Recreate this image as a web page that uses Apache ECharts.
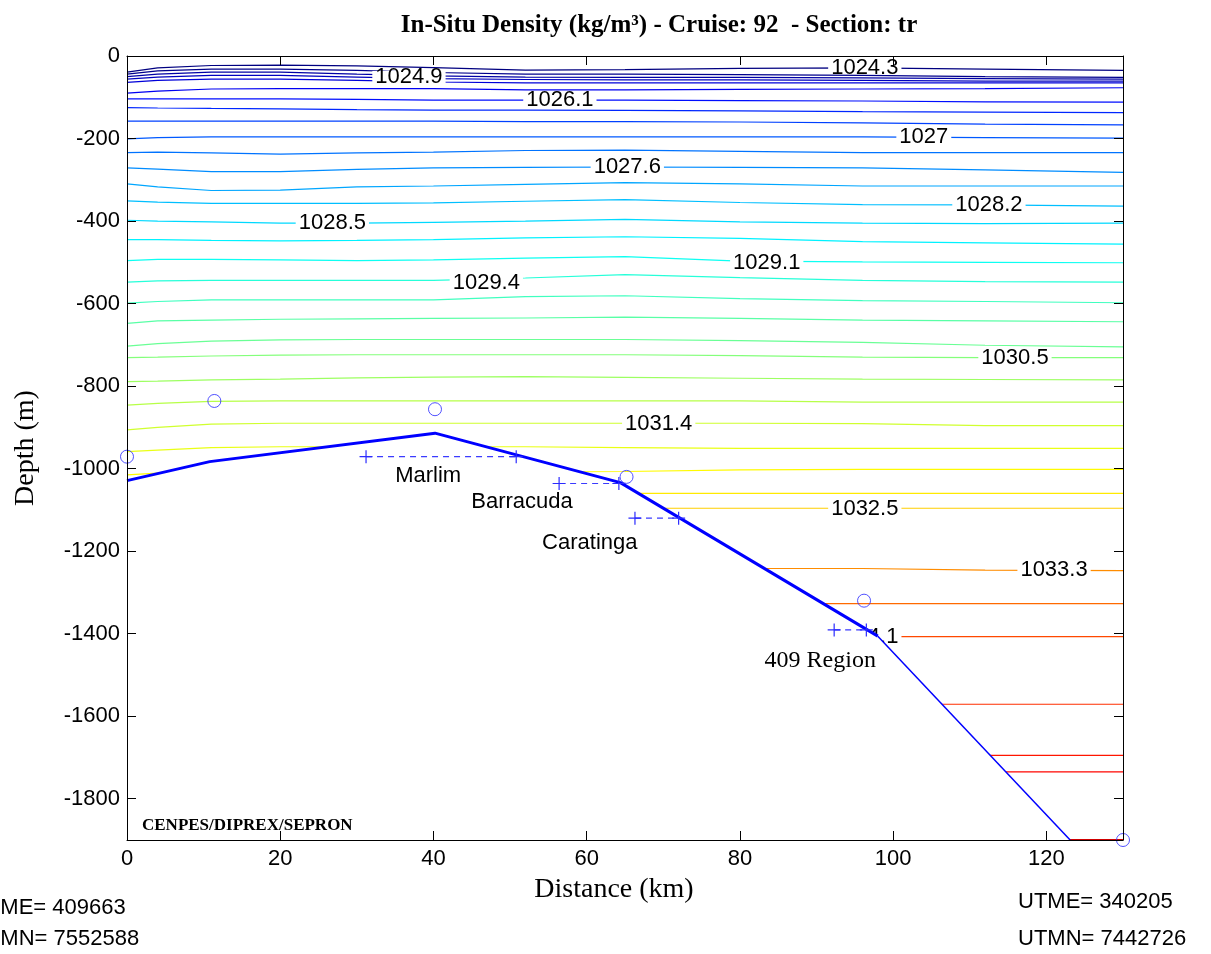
<!DOCTYPE html>
<html>
<head>
<meta charset="utf-8">
<script src="https://cdn.jsdelivr.net/npm/echarts@6/dist/echarts.min.js"></script>
<style>
  html, body { margin: 0; padding: 0; background: #ffffff; }
  #chart { width: 1211px; height: 954px; }
</style>
</head>
<body>
<div id="chart"></div>
<script>
// Distance nodes (km) at which every isopycnal depth is sampled
const distanceKm = [0, 4, 11, 20, 30, 40, 52, 65, 80, 96, 112, 130];

// In-situ density levels (kg/m3) of the contour lines, shallow to deep
const contourLevels = [
  1024.3, 1024.6, 1024.9, 1025.2, 1025.5, 1025.8, 1026.1, 1026.4, 1026.7, 1027.0,
  1027.3, 1027.6, 1027.9, 1028.2, 1028.5, 1028.8, 1029.1, 1029.4, 1029.7, 1030.0,
  1030.2, 1030.5, 1030.8, 1031.1, 1031.4, 1031.7, 1032.0, 1032.2, 1032.5, 1033.3,
  1033.7, 1034.1, 1034.4, 1034.7, 1034.9, 1035.5
];

// Depth (m) of each contour line at the distance nodes above
const contourDepths = [
  [-39, -29, -23, -22, -24, -28, -34, -33, -30, -29, -32, -35],
  [-44, -36, -32, -32, -35, -40, -44, -44, -45, -47, -50, -52],
  [-50, -44, -39, -39, -44, -48, -51, -52, -52, -53, -55, -56],
  [-56, -51, -47, -47, -51, -55, -57, -58, -58, -59, -61, -61],
  [-64, -59, -56, -56, -59, -63, -65, -65, -65, -65, -65, -65],
  [-90, -85, -80, -79, -79, -79, -82, -82, -81, -80, -79, -77],
  [-104, -104, -104, -104, -105, -107, -107, -107, -108, -109, -111, -112],
  [-125, -126, -127, -128, -130, -131, -131, -132, -133, -135, -136, -137],
  [-158, -158, -158, -158, -158, -158, -159, -159, -160, -162, -165, -167],
  [-201, -198, -196, -196, -196, -196, -196, -196, -196, -196, -198, -199],
  [-234, -233, -235, -238, -235, -233, -229, -228, -231, -234, -234, -234],
  [-271, -274, -280, -280, -275, -271, -270, -269, -270, -271, -276, -282],
  [-310, -317, -326, -325, -317, -315, -311, -307, -310, -315, -315, -315],
  [-351, -354, -357, -357, -357, -356, -352, -348, -355, -360, -361, -364],
  [-398, -400, -402, -405, -405, -403, -400, -396, -402, -405, -406, -405],
  [-445, -445, -447, -448, -447, -445, -441, -438, -442, -450, -453, -456],
  [-496, -493, -493, -494, -496, -494, -490, -486, -497, -499, -500, -501],
  [-548, -545, -544, -544, -544, -544, -538, -530, -537, -544, -547, -548],
  [-599, -595, -591, -591, -591, -591, -583, -581, -588, -593, -595, -598],
  [-648, -642, -640, -638, -637, -636, -635, -633, -636, -640, -642, -644],
  [-703, -697, -691, -688, -687, -687, -687, -687, -690, -694, -701, -705],
  [-731, -730, -727, -725, -724, -724, -724, -724, -726, -730, -731, -731],
  [-789, -788, -785, -783, -780, -778, -777, -779, -781, -783, -784, -785],
  [-846, -842, -837, -836, -836, -836, -836, -836, -836, -839, -839, -839],
  [-906, -900, -892, -890, -890, -890, -890, -890, -890, -891, -896, -896],
  [-959, -955, -949, -947, -947, -947, -947, -949, -951, -951, -951, -951],
  [-1015, -1011, -1008, -1008, -1008, -1008, -1008, -1007, -1003, -1002, -1002, -1002],
  [-1060, -1060, -1060, -1060, -1060, -1060, -1060, -1060, -1060, -1060, -1060, -1060],
  [-1096, -1096, -1096, -1096, -1096, -1096, -1096, -1096, -1096, -1096, -1096, -1096],
  [-1242, -1242, -1242, -1242, -1242, -1242, -1242, -1242, -1242, -1242, -1246, -1247],
  [-1327, -1327, -1327, -1327, -1327, -1327, -1327, -1327, -1327, -1327, -1327, -1327],
  [-1407, -1407, -1407, -1407, -1407, -1407, -1407, -1407, -1407, -1407, -1407, -1407],
  [-1571, -1571, -1571, -1571, -1571, -1571, -1571, -1571, -1571, -1571, -1571, -1571],
  [-1695, -1695, -1695, -1695, -1695, -1695, -1695, -1695, -1695, -1695, -1695, -1695],
  [-1735, -1735, -1735, -1735, -1735, -1735, -1735, -1735, -1735, -1735, -1735, -1735],
  [-1900, -1900, -1900, -1900, -1900, -1900, -1900, -1900, -1900, -1900, -1900, -1900]
];

// Inline contour labels: level, distance (km), depth (m)
const labelLevels = [1024.3, 1024.9, 1026.1, 1027.0, 1027.6, 1028.2, 1028.5, 1029.1, 1029.4, 1030.5, 1031.4, 1032.5, 1033.3, 1034.1];
const labelKm     = [96.3, 36.8, 56.5, 104.0, 65.3, 112.5, 26.8, 83.5, 46.9, 115.9, 69.4, 96.3, 121.0, 96.3];
const labelDepth  = [-29, -51, -107, -196, -270, -361, -405, -502, -550, -732, -892, -1097, -1246, -1408];

// Sea floor profile along the section
const bottomKm    = [0, 10.8, 40.2, 64.4, 98.0, 123.1];
const bottomDepth = [-1029, -983, -914, -1034, -1406, -1900];

// CTD stations (deepest sample)
const stationKm    = [0, 11.4, 40.2, 65.2, 96.2, 130];
const stationDepth = [-971, -836, -856, -1020, -1320, -1900];

// Oil fields crossed by the section
const fieldNames   = ['Marlim', 'Barracuda', 'Caratinga', '409 Region'];
const fieldStartKm = [31.2, 56.4, 66.3, 92.3];
const fieldEndKm   = [50.8, 64.2, 72.0, 96.5];
const fieldDepth   = [-971, -1036, -1120, -1391];

// Axis ticks
const xTicks = [0, 20, 40, 60, 80, 100, 120];
const yTicks = [0, -200, -400, -600, -800, -1000, -1200, -1400, -1600, -1800];

// Jet colormap
const colorMin = 1024.45, colorMax = 1036.45;
function jet(level) {
  const t = Math.max(0, Math.min(1, (level - colorMin) / (colorMax - colorMin)));
  const c = v => Math.max(0, Math.min(1, v));
  const r = c(Math.min(4 * t - 1.5, -4 * t + 4.5));
  const g = c(Math.min(4 * t - 0.5, -4 * t + 3.5));
  const b = c(Math.min(4 * t + 0.5, -4 * t + 2.5));
  return 'rgb(' + [r, g, b].map(v => Math.round(v * 255)).join(',') + ')';
}
const fmtLevel = v => String(Math.round(v * 10) / 10);

const crossSymbol = 'path://M-6,0L6,0M0,-6L0,6';
const sansFont = 'Liberation Sans';
const serifFont = 'Liberation Serif';

const series = [];

// Isopycnals
contourLevels.forEach((lev, i) => {
  series.push({
    type: 'line',
    z: 2,
    silent: true,
    symbol: 'none',
    data: distanceKm.map((km, j) => [km, contourDepths[i][j]]),
    lineStyle: { color: jet(lev), width: lev >= 1035 ? 2 : 1.2 }
  });
});

// Contour labels
series.push({
  type: 'scatter',
  z: 3,
  silent: true,
  symbolSize: 1,
  itemStyle: { color: 'transparent', opacity: 1 },
  data: labelLevels.map((lev, i) => ({ value: [labelKm[i], labelDepth[i]], level: lev })),
  label: {
    show: true,
    position: 'inside',
    formatter: p => fmtLevel(p.data.level),
    color: '#000000',
    textBorderWidth: 0,
    fontFamily: sansFont,
    fontSize: 22,
    lineHeight: 12,
    backgroundColor: '#ffffff',
    padding: [0, 3]
  }
});

// White sea floor below the bottom profile
const maskData = bottomKm.map((km, i) => [km, bottomDepth[i]]);
maskData.push([130, -1900]);
series.push({
  type: 'line',
  z: 4,
  silent: true,
  symbol: 'none',
  data: maskData,
  lineStyle: { width: 0 },
  areaStyle: { color: '#ffffff', opacity: 1, origin: 'start' }
});

// Bottom profile: thick upper slope, thin lower slope
series.push({
  type: 'line',
  z: 5,
  silent: true,
  symbol: 'none',
  data: bottomKm.slice(0, 5).map((km, i) => [km, bottomDepth[i]]),
  lineStyle: { color: '#0000ff', width: 3 }
});
series.push({
  type: 'line',
  z: 5,
  silent: true,
  symbol: 'none',
  data: bottomKm.slice(4).map((km, i) => [km, bottomDepth[i + 4]]),
  lineStyle: { color: '#0000ff', width: 1.5 }
});

// Stations
series.push({
  type: 'scatter',
  z: 6,
  silent: true,
  clip: false,
  symbol: 'circle',
  symbolSize: 13,
  itemStyle: { color: 'none', borderColor: '#3333ff', borderWidth: 1, opacity: 0.85 },
  data: stationKm.map((km, i) => [km, stationDepth[i]])
});

// Oil field extents
fieldNames.forEach((name, i) => {
  series.push({
    type: 'line',
    z: 6,
    silent: true,
    symbol: crossSymbol,
    symbolSize: 13,
    showSymbol: true,
    itemStyle: { color: 'none', borderColor: '#2b2bff', borderWidth: 1.2 },
    lineStyle: { color: '#3b3bff', width: 1.2, type: [6, 5] },
    data: [[fieldStartKm[i], fieldDepth[i]], [fieldEndKm[i], fieldDepth[i]]]
  });
});

// Oil field names
const fieldLabelOffset = [[-13, 19], [-67, 18], [-67, 25], [-30, 31]];
series.push({
  type: 'scatter',
  z: 6,
  silent: true,
  symbolSize: 1,
  itemStyle: { color: 'transparent', opacity: 1 },
  data: fieldNames.map((name, i) => ({
    value: [(fieldStartKm[i] + fieldEndKm[i]) / 2, fieldDepth[i]],
    name: name,
    label: {
      offset: fieldLabelOffset[i],
      fontFamily: i === 3 ? serifFont : sansFont,
      fontSize: i === 3 ? 24 : 22
    }
  })),
  label: {
    show: true,
    position: 'inside',
    formatter: p => p.name,
    color: '#000000',
    textBorderWidth: 0
  }
});

const boxLine = { show: true, onZero: false, lineStyle: { color: '#000', width: 1 } };
const innerTick = (vals) => ({ show: true, inside: true, length: 9, customValues: vals, lineStyle: { color: '#000', width: 1 } });

const option = {
  animation: false,
  backgroundColor: '#ffffff',
  title: {
    text: 'In-Situ Density (kg/m³) - Cruise: 92  - Section: tr',
    left: 654,
    top: 8,
    textAlign: 'center',
    textStyle: { fontFamily: serifFont, fontWeight: 'bold', fontSize: 25, color: '#000' }
  },
  grid: { left: 127, top: 56, width: 996, height: 784, containLabel: false },
  xAxis: [
    {
      type: 'value', min: 0, max: 130, position: 'bottom', z: 10,
      axisLine: boxLine,
      axisTick: innerTick(xTicks),
      axisLabel: { customValues: xTicks, margin: 8, color: '#000', fontFamily: sansFont, fontSize: 22, formatter: v => String(v) },
      splitLine: { show: false },
      name: 'Distance (km)', nameLocation: 'middle', nameGap: 36,
      nameTextStyle: { fontFamily: serifFont, fontSize: 28, color: '#000', padding: [0, 22, 0, 0] }
    },
    {
      type: 'value', min: 0, max: 130, position: 'top', z: 10,
      axisLine: boxLine,
      axisTick: innerTick(xTicks),
      axisLabel: { show: false },
      splitLine: { show: false }
    }
  ],
  yAxis: [
    {
      type: 'value', min: -1900, max: 0, position: 'left', z: 10,
      axisLine: boxLine,
      axisTick: innerTick(yTicks),
      axisLabel: { customValues: yTicks, margin: 7, color: '#000', fontFamily: sansFont, fontSize: 22, formatter: v => String(v) },
      splitLine: { show: false },
      name: 'Depth (m)', nameLocation: 'middle', nameGap: 87, nameRotate: 90,
      nameTextStyle: { fontFamily: serifFont, fontSize: 28, color: '#000' }
    },
    {
      type: 'value', min: -1900, max: 0, position: 'right', z: 10,
      axisLine: boxLine,
      axisTick: innerTick(yTicks),
      axisLabel: { show: false },
      splitLine: { show: false }
    }
  ],
  graphic: [
    { type: 'text', z: 100, x: 142, y: 826, style: { text: 'CENPES/DIPREX/SEPRON', font: 'bold 17px "Liberation Serif"', fill: '#000', align: 'left', verticalAlign: 'middle' } },
    { type: 'text', z: 100, x: -29, y: 908, style: { text: 'UTME= 409663', font: '22px "Liberation Sans"', fill: '#000', align: 'left', verticalAlign: 'middle' } },
    { type: 'text', z: 100, x: -29, y: 939, style: { text: 'UTMN= 7552588', font: '22px "Liberation Sans"', fill: '#000', align: 'left', verticalAlign: 'middle' } },
    { type: 'text', z: 100, x: 1018, y: 902, style: { text: 'UTME= 340205', font: '22px "Liberation Sans"', fill: '#000', align: 'left', verticalAlign: 'middle' } },
    { type: 'text', z: 100, x: 1018, y: 939, style: { text: 'UTMN= 7442726', font: '22px "Liberation Sans"', fill: '#000', align: 'left', verticalAlign: 'middle' } }
  ],
  series: series
};

const chart = echarts.init(document.getElementById('chart'), null, { renderer: 'canvas' });
chart.setOption(option);
</script>
</body>
</html>
